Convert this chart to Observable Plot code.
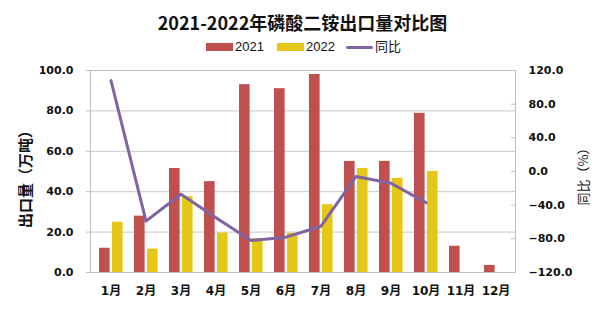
<!DOCTYPE html>
<html>
<head>
<meta charset="utf-8">
<script src="https://cdn.jsdelivr.net/npm/d3@7"></script>
<script src="https://cdn.jsdelivr.net/npm/@observablehq/plot@0.6"></script>
<style>
  html, body { margin: 0; padding: 0; background: #fff; }
  #wrap { position: relative; width: 605px; height: 321px; overflow: hidden; font-family: "DejaVu Sans", "Noto Sans CJK SC", sans-serif; }
  #title { position: absolute; left: 0; top: 10px; width: 605px; text-align: center; font: bold 18px "Noto Sans CJK SC", sans-serif; line-height: 24px; color: #111; z-index: 2; }
  .lg { position: absolute; top: 38px; height: 18px; font: 13px "Liberation Sans", "Noto Sans CJK SC", sans-serif; line-height: 18px; color: #111; z-index: 2; }
  .sw { position: absolute; }
  #chart { position: absolute; left: 0; top: 0; }
</style>
</head>
<body>
<div id="wrap">
  <div id="title">2021-2022年磷酸二铵出口量对比图</div>
  <div id="legend"></div>
  <div id="chart"></div>
</div>
<script>
const months = ["1月","2月","3月","4月","5月","6月","7月","8月","9月","10月","11月","12月"];
const series = ["2021", "2022"];
const v2021 = [12.0, 27.9, 51.5, 45.0, 93.0, 91.0, 98.0, 55.0, 55.0, 78.8, 13.0, 3.5];
const v2022 = [24.9, 11.6, 37.6, 19.5, 16.8, 19.4, 33.6, 51.5, 46.6, 50.0, null, null];
const yoyLabel = "同比";
const yoy = [108, -59, -27, -55, -82, -78, -65, -6, -14, -37];
const leftTicks = [0, 20, 40, 60, 80, 100];
const rightTicks = [-120, -80, -40, 0, 40, 80, 120];
const colors = {"2021": "#C0504D", "2022": "#E5C816", "同比": "#8064A2"};

// right axis (-120..120) mapped onto the left axis domain (0..100)
const rDomain = [-120, 120];
const toLeft = v => (v - rDomain[0]) / (rDomain[1] - rDomain[0]) * 100;
const toRight = v => v / 100 * (rDomain[1] - rDomain[0]) + rDomain[0];

const bars21 = months.map((m, i) => ({month: m, value: v2021[i]}));
const bars22 = months.map((m, i) => ({month: m, value: v2022[i]})).filter(d => d.value != null);
const line = yoy.map((v, i) => ({month: months[i], value: v}));

const font = "DejaVu Sans, Noto Sans CJK SC, sans-serif";
const grey = "#BFBFBF";

const plot = Plot.plot({
  width: 605,
  height: 321,
  marginTop: 70,
  marginBottom: 49,
  marginLeft: 90,
  marginRight: 90,
  style: {background: "transparent", overflow: "visible"},
  x: {domain: months, padding: 0, axis: null},
  y: {domain: [0, 100], axis: null},
  marks: [
    Plot.gridY(leftTicks.filter(d => d > 0 && d < 100), {stroke: "#C8C8C8", strokeOpacity: 1, strokeWidth: 1}),
    Plot.frame({stroke: grey, strokeWidth: 1}),
    Plot.barY(bars21, {x: "month", y: "value", fill: colors["2021"], insetLeft: 6, insetRight: 18.4}),
    Plot.barY(bars22, {x: "month", y: "value", fill: colors["2022"], insetLeft: 19, insetRight: 5.4}),
    Plot.line(line, {x: "month", y: d => toLeft(d.value), stroke: colors["同比"], strokeWidth: 3, strokeLinejoin: "round"}),
    Plot.axisY({anchor: "left", ticks: leftTicks, tickSize: 4, tickPadding: 13, stroke: grey,
      tickFormat: d3.format(".1f"), fontSize: 11, fontWeight: "bold", fontFamily: font, fill: "#111", label: null}),
    Plot.axisY({anchor: "right", ticks: rightTicks.map(toLeft), tickSize: 5, dx: -5, stroke: grey,
      tickFormat: () => "", label: null}),
    Plot.axisY({anchor: "right", ticks: rightTicks.map(toLeft), tickSize: 0, tickPadding: 13,
      tickFormat: d => d3.format(".1f")(Math.round(toRight(d))), fontSize: 11, fontWeight: "bold", fontFamily: font, fill: "#111", label: null}),
    Plot.axisX({anchor: "bottom", tickSize: 0, tickPadding: 14, fontSize: 12, fontWeight: "bold", fontFamily: font, fill: "#111", label: null}),
    Plot.text(["出口量（万吨）"], {frameAnchor: "left", textAnchor: "middle", dx: -64, dy: 4, rotate: -90, fontSize: 15, fontWeight: "bold", fontFamily: "Noto Sans CJK SC, sans-serif", fill: "#111"}),
    Plot.text(["同比（%）"], {frameAnchor: "right", textAnchor: "middle", dx: 68, dy: 2, rotate: -90, fontSize: 13, fontFamily: "Noto Sans CJK SC, sans-serif", fill: "#111"})
  ]
});
document.getElementById("chart").appendChild(plot);

// legend
const legend = document.getElementById("legend");
const items = [
  {label: series[0], color: colors["2021"], kind: "rect", left: 206},
  {label: series[1], color: colors["2022"], kind: "rect", left: 277},
  {label: yoyLabel, color: colors["同比"], kind: "line", left: 346}
];
for (const it of items) {
  const sw = document.createElement("div");
  sw.className = "sw";
  sw.style.left = it.left + "px";
  sw.style.width = "27px";
  sw.style.background = it.color;
  if (it.kind === "rect") { sw.style.top = "43px"; sw.style.height = "8px"; }
  else { sw.style.top = "46px"; sw.style.height = "3px"; sw.style.borderRadius = "1.5px"; }
  sw.style.zIndex = 2;
  legend.appendChild(sw);
  const t = document.createElement("div");
  t.className = "lg";
  t.style.left = (it.left + 29) + "px";
  t.textContent = it.label;
  legend.appendChild(t);
}
</script>
</body>
</html>
